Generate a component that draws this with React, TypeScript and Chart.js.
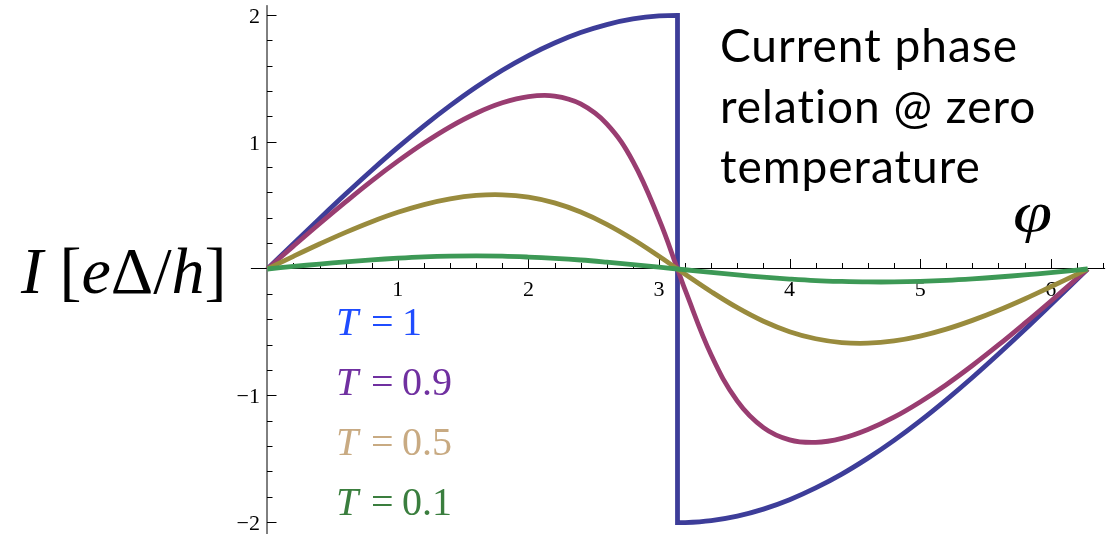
import React, { useEffect, useRef } from 'react';
import { Chart, registerables } from 'chart.js';

Chart.register(...registerables);

const W = 1111;
const H = 534;

// Phase samples (radians). The T = 1 curve jumps at pi, so pi appears twice there.
const phiSmooth = [
  0, 0.2, 0.4, 0.6, 0.8, 1.0, 1.2, 1.4, 1.6, 1.8, 2.0, 2.2, 2.4, 2.6, 2.8, 3.0,
  3.1416,
  3.2, 3.4, 3.6, 3.8, 4.0, 4.2, 4.4, 4.6, 4.8, 5.0, 5.2, 5.4, 5.6, 5.8, 6.0, 6.2,
  6.2832,
];
const phiJump = [
  0, 0.2, 0.4, 0.6, 0.8, 1.0, 1.2, 1.4, 1.6, 1.8, 2.0, 2.2, 2.4, 2.6, 2.8, 3.0,
  3.1416, 3.1416,
  3.2, 3.4, 3.6, 3.8, 4.0, 4.2, 4.4, 4.6, 4.8, 5.0, 5.2, 5.4, 5.6, 5.8, 6.0, 6.2,
  6.2832,
];

// Supercurrent I [eΔ/h] for each transmission T
const currentT1 = [
  0, 0.2, 0.397, 0.591, 0.779, 0.959, 1.129, 1.288, 1.435, 1.567, 1.683, 1.782, 1.864, 1.927, 1.971, 1.995,
  2.0, -2.0,
  -1.999, -1.983, -1.948, -1.893, -1.819, -1.726, -1.617, -1.491, -1.351, -1.197, -1.031, -0.855, -0.67, -0.479, -0.282, -0.083,
  0,
];
const currentT09 = [
  0, 0.18, 0.357, 0.529, 0.695, 0.85, 0.993, 1.121, 1.228, 1.31, 1.359, 1.363, 1.301, 1.144, 0.849, 0.393,
  0,
  -0.165, -0.678, -1.041, -1.25, -1.347, -1.367, -1.335, -1.265, -1.168, -1.048, -0.912, -0.761, -0.599, -0.429, -0.254, -0.075,
  0,
];
const currentT05 = [
  0, 0.1, 0.197, 0.289, 0.373, 0.447, 0.508, 0.553, 0.58, 0.585, 0.566, 0.521, 0.449, 0.352, 0.234, 0.1,
  0,
  -0.041, -0.179, -0.305, -0.412, -0.494, -0.55, -0.58, -0.585, -0.567, -0.529, -0.474, -0.405, -0.325, -0.236, -0.14, -0.042,
  0,
];
const currentT01 = [
  0, 0.02, 0.039, 0.057, 0.072, 0.085, 0.095, 0.101, 0.103, 0.101, 0.094, 0.084, 0.071, 0.054, 0.035, 0.015,
  0,
  -0.006, -0.027, -0.047, -0.064, -0.079, -0.091, -0.098, -0.102, -0.102, -0.098, -0.09, -0.078, -0.063, -0.047, -0.028, -0.008,
  0,
];

const xTickValues = [1, 2, 3, 4, 5, 6];
const xTickLabels = ['1', '2', '3', '4', '5', '6'];
const yTickValues = [-2, -1, 1, 2];
const yTickLabels = ['\u22122', '\u22121', '1', '2'];

const legendNames = ['1', '0.9', '0.5', '0.1'];
const legendColors = ['#1f4cff', '#7030a0', '#c8aa82', '#3a7e3e'];
const lineColors = ['#3d3d99', '#993d71', '#998b3d', '#3d9956'];

// Axis ranges and placement of the origin on the canvas
const X_MIN = -0.1257;
const X_MAX = 6.409;
const Y_MIN = -2.08;
const Y_MAX = 2.08;
const ORIGIN_X = 267.3;
const PX_PER_X = 130.57;
const ORIGIN_Y = 269;
const PX_PER_Y = 126.85;

const crossAxes = {
  id: 'crossAxes',
  beforeDatasetsDraw(chart: any) {
    const { ctx } = chart;
    const xs = chart.scales.x;
    const ys = chart.scales.y;
    const ox = Math.round(xs.getPixelForValue(0));
    const oy = Math.floor(ys.getPixelForValue(0)) + 0.5;
    ctx.save();
    ctx.strokeStyle = '#000';
    ctx.lineWidth = 1;
    ctx.beginPath();
    ctx.moveTo(xs.left, oy);
    ctx.lineTo(xs.right + 1, oy);
    ctx.moveTo(ox, ys.top);
    ctx.lineTo(ox, chart.height);
    ctx.stroke();

    // major ticks every 1, minor every 0.2, pointing into the plot
    ctx.beginPath();
    for (let i = 1; i * 0.2 <= X_MAX; i++) {
      const px = Math.round(xs.getPixelForValue(i * 0.2)) + 0.5;
      const len = i % 5 === 0 ? 9.5 : 5.5;
      ctx.moveTo(px, oy);
      ctx.lineTo(px, oy - len);
    }
    for (let i = -10; i <= 10; i++) {
      if (i === 0) continue;
      const py = Math.floor(ys.getPixelForValue(i * 0.2)) + 0.5;
      const len = i % 5 === 0 ? 9.5 : 5.5;
      ctx.moveTo(ox, py);
      ctx.lineTo(ox + len, py);
    }
    ctx.stroke();

    ctx.fillStyle = '#000';
    ctx.font = '22px "Liberation Serif", "Times New Roman", serif';
    ctx.textBaseline = 'alphabetic';
    ctx.textAlign = 'center';
    xTickValues.forEach((v, i) => {
      ctx.fillText(xTickLabels[i], xs.getPixelForValue(v), oy + 27);
    });
    ctx.textAlign = 'right';
    yTickValues.forEach((v, i) => {
      ctx.fillText(yTickLabels[i], ox - 7, ys.getPixelForValue(v) + 7.5);
    });
    ctx.restore();
  },
};

const SERIF = '"Liberation Serif", "Times New Roman", serif';
const SANS = 'Lato, "Open Sans", sans-serif';

// top offset so that a line box of height = font size puts the baseline at `baseline`
function topFor(baseline: number, size: number, asc: number, desc: number) {
  return baseline - (size * (1 - (asc + desc)) / 2 + asc * size);
}

function Text(props: {
  left: number;
  baseline: number;
  size: number;
  family: string;
  asc: number;
  desc: number;
  color?: string;
  italic?: boolean;
  spacing?: number;
  scaleX?: number;
  children: React.ReactNode;
}) {
  const { left, baseline, size, family, asc, desc, color = '#000', italic, spacing = 0, scaleX = 1, children } = props;
  return (
    <div
      style={{
        position: 'absolute',
        left,
        top: topFor(baseline, size, asc, desc),
        fontFamily: family,
        fontSize: size,
        lineHeight: `${size}px`,
        letterSpacing: spacing,
        color,
        fontStyle: italic ? 'italic' : 'normal',
        whiteSpace: 'nowrap',
        transform: scaleX !== 1 ? `scaleX(${scaleX})` : undefined,
        transformOrigin: 'left center',
      }}
    >
      {children}
    </div>
  );
}

export default function App() {
  const canvasRef = useRef<HTMLCanvasElement | null>(null);

  useEffect(() => {
    const canvas = canvasRef.current;
    if (!canvas) return;
    const series = [
      { label: 'T = 1', phi: phiJump, values: currentT1, color: lineColors[0], jump: true, order: 4 },
      { label: 'T = 0.9', phi: phiSmooth, values: currentT09, color: lineColors[1], jump: false, order: 3 },
      { label: 'T = 0.5', phi: phiSmooth, values: currentT05, color: lineColors[2], jump: false, order: 2 },
      { label: 'T = 0.1', phi: phiSmooth, values: currentT01, color: lineColors[3], jump: false, order: 1 },
    ];
    const chart = new Chart(canvas, {
      type: 'line',
      data: {
        datasets: series.map((s) => ({
          label: s.label,
          data: s.phi.map((x, i) => ({ x, y: s.values[i] })),
          borderColor: s.color,
          borderWidth: 4.8,
          pointRadius: 0,
          tension: s.jump ? 0 : 0.4,
          cubicInterpolationMode: s.jump ? 'monotone' : 'default',
          borderJoinStyle: 'miter',
          fill: false,
          order: s.order,
        })),
      },
      options: {
        animation: false,
        responsive: false,
        devicePixelRatio: 1,
        events: [],
        layout: {
          padding: {
            left: ORIGIN_X + X_MIN * PX_PER_X,
            right: W - (ORIGIN_X + X_MAX * PX_PER_X),
            top: ORIGIN_Y - Y_MAX * PX_PER_Y,
            bottom: H - (ORIGIN_Y - Y_MIN * PX_PER_Y),
          },
        },
        scales: {
          x: { type: 'linear', min: X_MIN, max: X_MAX, display: false },
          y: { type: 'linear', min: Y_MIN, max: Y_MAX, display: false },
        },
        plugins: {
          legend: { display: false },
          tooltip: { enabled: false },
        },
      },
      plugins: [crossAxes],
    } as any);
    return () => chart.destroy();
  }, []);

  const serifAsc = 0.891;
  const serifDesc = 0.216;
  const latoAsc = 0.987;
  const latoDesc = 0.213;

  return (
    <div style={{ position: 'absolute', left: 0, top: 0, width: W, height: H, overflow: 'hidden', background: '#fff' }}>
      <canvas ref={canvasRef} width={W} height={H} style={{ display: 'block', width: W, height: H }} />

      <Text left={21} baseline={293} size={66} family={SERIF} asc={serifAsc} desc={serifDesc}>
        <i>I</i>&nbsp;[<i>e</i>Δ/<i>h</i>]
      </Text>

      <Text left={1013} baseline={232} size={58} family={SERIF} asc={serifAsc} desc={serifDesc} italic scaleX={1.22}>
        φ
      </Text>

      <Text left={720} baseline={63} size={46} family={SANS} asc={latoAsc} desc={latoDesc} spacing={1}>
        Current phase
      </Text>
      <Text left={720} baseline={124} size={46} family={SANS} asc={latoAsc} desc={latoDesc} spacing={1}>
        relation @ zero
      </Text>
      <Text left={720} baseline={184} size={46} family={SANS} asc={latoAsc} desc={latoDesc} spacing={1}>
        temperature
      </Text>

      {legendNames.map((name, i) => (
        <React.Fragment key={name}>
          <Text left={336} baseline={335 + i * 60} size={40} family={SERIF} asc={serifAsc} desc={serifDesc} color={legendColors[i]} italic>
            T
          </Text>
          <Text left={371} baseline={335 + i * 60} size={40} family={SERIF} asc={serifAsc} desc={serifDesc} color={legendColors[i]}>
            =
          </Text>
          <Text left={402} baseline={335 + i * 60} size={40} family={SERIF} asc={serifAsc} desc={serifDesc} color={legendColors[i]}>
            {name}
          </Text>
        </React.Fragment>
      ))}
    </div>
  );
}
